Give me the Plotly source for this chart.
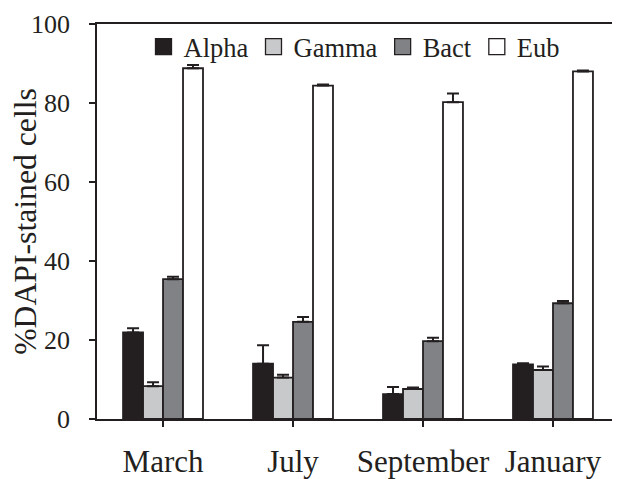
import plotly.graph_objects as go

months = ["March", "July", "September", "January"]
series_names = ["Alpha", "Gamma", "Bact", "Eub"]
alpha = [21.9, 14.0, 6.3, 13.8]
alpha_err = [1.1, 4.7, 1.8, 0.3]
gamma = [8.3, 10.5, 7.6, 12.4]
gamma_err = [1.0, 0.7, 0.4, 0.9]
bact = [35.4, 24.6, 19.7, 29.3]
bact_err = [0.6, 1.2, 0.9, 0.6]
eub = [88.8, 84.4, 80.2, 88.0]
eub_err = [0.8, 0.3, 2.2, 0.2]
y_ticks = [0, 20, 40, 60, 80, 100]

values = [alpha, gamma, bact, eub]
errors = [alpha_err, gamma_err, bact_err, eub_err]
colors = ["#231f20", "#c8c9ca", "#808285", "#ffffff"]
ink = "#231f20"
font_family = "Liberation Serif"

fig = go.Figure()
for name, vals, errs, col in zip(series_names, values, errors, colors):
    fig.add_trace(go.Bar(
        name=name, x=months, y=vals, showlegend=False, legendgroup=name,
        marker=dict(color=col, line=dict(color=ink, width=1.8)),
        error_y=dict(type="data", array=errs, arrayminus=[0] * len(errs),
                     symmetric=False, color=ink, thickness=2, width=6),
    ))
# legend entries with larger square swatches (as in the original figure)
for name, col in zip(series_names, colors):
    fig.add_trace(go.Scatter(
        name=name, x=[None], y=[None], mode="markers", legendgroup=name,
        marker=dict(symbol="square", size=16, color=col, line=dict(color=ink, width=1.3)),
    ))

# the page body adds an 8px margin, so the figure is 8px smaller than the window
fig.update_layout(
    width=612, height=471,
    margin=dict(l=89, r=8, t=16, b=60, autoexpand=False),
    paper_bgcolor="white", plot_bgcolor="white",
    barmode="group", bargap=0.385, bargroupgap=0,
    font=dict(family=font_family, color=ink),
    showlegend=True,
    legend=dict(orientation="h", x=0.5, xanchor="center", y=1.003, yanchor="top",
                font=dict(size=26.5, family=font_family, color=ink),
                bgcolor="rgba(0,0,0,0)", itemwidth=30, tracegroupgap=0),
)
fig.update_xaxes(
    range=[-0.508, 3.454], showline=True, linecolor=ink, linewidth=1.5, mirror=True,
    ticks="outside", ticklen=6, tickwidth=1.5, tickcolor=ink,
    tickfont=dict(size=31, family=font_family, color=ink),
    ticklabelstandoff=8, showgrid=False, automargin=False,
)
fig.update_yaxes(
    range=[0, 100], tickvals=y_ticks, showline=True, linecolor=ink, linewidth=1.5, mirror=True,
    ticks="outside", ticklen=6, tickwidth=1.5, tickcolor=ink,
    tickfont=dict(size=26, family=font_family, color=ink),
    ticklabelstandoff=14, showgrid=False, zeroline=False, automargin=False,
    title=dict(text="%DAPI-stained cells", font=dict(size=31.7, family=font_family, color=ink), standoff=1),
)
fig.write_html("out.html")
